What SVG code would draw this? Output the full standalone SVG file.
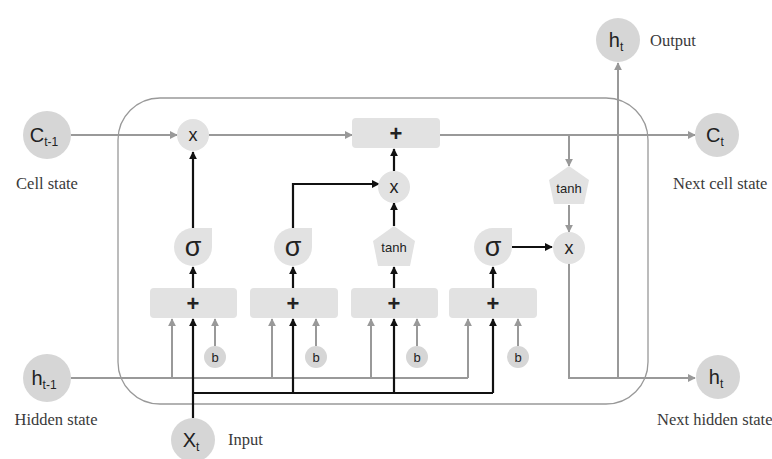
<svg xmlns="http://www.w3.org/2000/svg" width="772" height="459" viewBox="0 0 772 459">
<defs>
<marker id="ag" viewBox="0 0 10 10" refX="9" refY="5" markerWidth="8" markerHeight="8" markerUnits="userSpaceOnUse" orient="auto"><path d="M0,0 L10,5 L0,10 Z" fill="#999"/></marker>
<marker id="ab" viewBox="0 0 10 10" refX="9" refY="5" markerWidth="8" markerHeight="8" markerUnits="userSpaceOnUse" orient="auto"><path d="M0,0 L10,5 L0,10 Z" fill="#111"/></marker>
</defs>
<style>
.g{fill:none;stroke:#999;stroke-width:2}
.k{fill:none;stroke:#111;stroke-width:2.2}
.node{fill:#d6d6d6}
.op{fill:#e2e2e2}
.box{fill:#e2e2e2}
.sym{font-family:"Liberation Sans",Arial,sans-serif;fill:#222;text-anchor:middle}
.lab{font-family:"Liberation Serif","Times New Roman",serif;font-size:16.5px;fill:#3a3a3a}
</style>
<rect width="772" height="459" fill="#fff"/>
<rect x="118" y="98" width="530" height="306" rx="42" ry="42" fill="none" stroke="#999" stroke-width="1.3"/>

<g id="connectors">
<line class="g" x1="71" y1="135" x2="177" y2="135" marker-end="url(#ag)"/>
<line class="g" x1="209" y1="135" x2="352" y2="135" marker-end="url(#ag)"/>
<line class="g" x1="440" y1="135" x2="695" y2="135" marker-end="url(#ag)"/>
<line class="g" x1="569" y1="135" x2="569" y2="166" marker-end="url(#ag)"/>
<line class="g" x1="569" y1="205" x2="569" y2="232" marker-end="url(#ag)"/>
<polyline class="g" points="569,263 569,378 695,378" marker-end="url(#ag)"/>
<line class="g" x1="618" y1="378" x2="618" y2="63" marker-end="url(#ag)"/>
<line class="g" x1="71" y1="378" x2="468" y2="378"/>
<line class="g" x1="172" y1="378" x2="172" y2="319" marker-end="url(#ag)"/>
<line class="g" x1="272" y1="378" x2="272" y2="319" marker-end="url(#ag)"/>
<line class="g" x1="371" y1="378" x2="371" y2="319" marker-end="url(#ag)"/>
<line class="g" x1="468" y1="378" x2="468" y2="319" marker-end="url(#ag)"/>
<line class="g" x1="215" y1="346" x2="215" y2="319" marker-end="url(#ag)"/>
<line class="g" x1="316" y1="346" x2="316" y2="319" marker-end="url(#ag)"/>
<line class="g" x1="417" y1="346" x2="417" y2="319" marker-end="url(#ag)"/>
<line class="g" x1="518" y1="346" x2="518" y2="319" marker-end="url(#ag)"/>
<line class="k" x1="193" y1="418" x2="193" y2="319" marker-end="url(#ab)"/>
<line class="k" x1="193" y1="393" x2="493" y2="393"/>
<line class="k" x1="293" y1="393" x2="293" y2="319" marker-end="url(#ab)"/>
<line class="k" x1="394" y1="393" x2="394" y2="319" marker-end="url(#ab)"/>
<line class="k" x1="493" y1="393" x2="493" y2="319" marker-end="url(#ab)"/>
<line class="k" x1="193" y1="288" x2="193" y2="267" marker-end="url(#ab)"/>
<line class="k" x1="293" y1="288" x2="293" y2="267" marker-end="url(#ab)"/>
<line class="k" x1="394" y1="288" x2="394" y2="267" marker-end="url(#ab)"/>
<line class="k" x1="493" y1="288" x2="493" y2="267" marker-end="url(#ab)"/>
<line class="k" x1="193" y1="228" x2="193" y2="152" marker-end="url(#ab)"/>
<polyline class="k" points="293,228 293,184 379,184" marker-end="url(#ab)"/>
<line class="k" x1="394" y1="226" x2="394" y2="203" marker-end="url(#ab)"/>
<line class="k" x1="394" y1="171" x2="394" y2="149" marker-end="url(#ab)"/>
<line class="k" x1="512" y1="247" x2="552" y2="247" marker-end="url(#ab)"/>
</g>

<g id="c_prev"><circle class="node" cx="47" cy="135" r="24"/><text class="sym" x="44" y="142" font-size="20">C<tspan font-size="12" dy="4">t-1</tspan></text><text class="lab" x="47" y="189" text-anchor="middle">Cell state</text></g>
<g id="h_prev"><circle class="node" cx="47" cy="378" r="24"/><text class="sym" x="44" y="385" font-size="20">h<tspan font-size="12" dy="4">t-1</tspan></text><text class="lab" x="56" y="425" text-anchor="middle">Hidden state</text></g>
<g id="x_t"><circle class="node" cx="193" cy="440" r="22"/><text class="sym" x="191" y="447" font-size="20">X<tspan font-size="12" dy="4">t</tspan></text><text class="lab" x="228" y="445">Input</text></g>
<g id="c_t"><circle class="node" cx="717" cy="135" r="22"/><text class="sym" x="715" y="142" font-size="20">C<tspan font-size="12" dy="4">t</tspan></text><text class="lab" x="673" y="189">Next cell state</text></g>
<g id="h_t"><circle class="node" cx="718" cy="377" r="22"/><text class="sym" x="716" y="384" font-size="20">h<tspan font-size="12" dy="4">t</tspan></text><text class="lab" x="657" y="425">Next hidden state</text></g>
<g id="h_out"><circle class="node" cx="618" cy="40" r="22"/><text class="sym" x="616" y="47" font-size="20">h<tspan font-size="12" dy="4">t</tspan></text><text class="lab" x="650" y="46">Output</text></g>

<g id="mul1"><circle class="op" cx="193" cy="135" r="16"/><text class="sym" x="193" y="141" font-size="18">x</text></g>
<g id="mul2"><circle class="op" cx="394" cy="187" r="16"/><text class="sym" x="394" y="193" font-size="18">x</text></g>
<g id="mul3"><circle class="op" cx="569" cy="248" r="16"/><text class="sym" x="569" y="254" font-size="18">x</text></g>
<g id="add_cell"><rect class="box" x="352" y="118" width="88" height="30" rx="4"/><text class="sym" x="396" y="141" font-size="22" font-weight="bold">+</text></g>
<g id="tanh_out"><path class="op" d="M569,166 L589,180 L584,204 L554,204 L549,180 Z"/><text class="sym" x="569" y="193" font-size="13">tanh</text></g>

<g id="gate_f"><path class="op" d="M174,247 A19,19 0 0 1 193,228 L212,228 L212,247 A19,19 0 0 1 193,266 A19,19 0 0 1 174,247 Z"/><text class="sym" x="193" y="256" font-size="27">σ</text></g>
<g id="gate_i"><path class="op" d="M274,247 A19,19 0 0 1 293,228 L312,228 L312,247 A19,19 0 0 1 293,266 A19,19 0 0 1 274,247 Z"/><text class="sym" x="293" y="256" font-size="27">σ</text></g>
<g id="gate_c"><path class="op" d="M394,226 L415,241 L410,266 L378,266 L373,241 Z"/><text class="sym" x="394" y="252" font-size="13">tanh</text></g>
<g id="gate_o"><path class="op" d="M474,247 A19,19 0 0 1 493,228 L512,228 L512,247 A19,19 0 0 1 493,266 A19,19 0 0 1 474,247 Z"/><text class="sym" x="493" y="256" font-size="27">σ</text></g>

<g id="sum_f"><rect class="box" x="150" y="288" width="87" height="30" rx="4"/><text class="sym" x="193" y="311" font-size="22" font-weight="bold">+</text></g>
<g id="sum_i"><rect class="box" x="250" y="288" width="88" height="30" rx="4"/><text class="sym" x="293" y="311" font-size="22" font-weight="bold">+</text></g>
<g id="sum_c"><rect class="box" x="351" y="288" width="87" height="30" rx="4"/><text class="sym" x="394" y="311" font-size="22" font-weight="bold">+</text></g>
<g id="sum_o"><rect class="box" x="449" y="288" width="88" height="30" rx="4"/><text class="sym" x="493" y="311" font-size="22" font-weight="bold">+</text></g>

<g id="b_f"><circle class="node" cx="215" cy="357" r="11"/><text class="sym" x="215" y="362" font-size="13">b</text></g>
<g id="b_i"><circle class="node" cx="316" cy="357" r="11"/><text class="sym" x="316" y="362" font-size="13">b</text></g>
<g id="b_c"><circle class="node" cx="417" cy="357" r="11"/><text class="sym" x="417" y="362" font-size="13">b</text></g>
<g id="b_o"><circle class="node" cx="518" cy="357" r="11"/><text class="sym" x="518" y="362" font-size="13">b</text></g>
</svg>
